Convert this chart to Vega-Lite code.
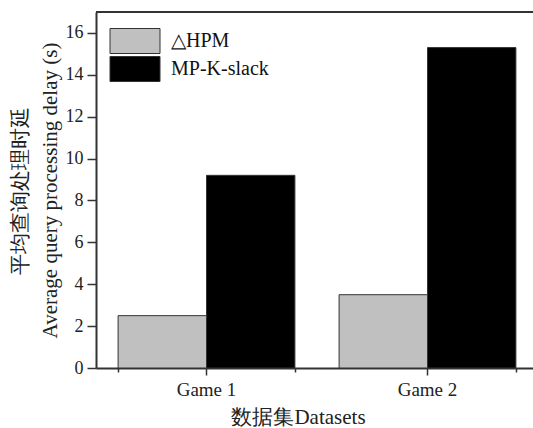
{
  "$schema": "https://vega.github.io/schema/vega-lite/v6.json",
  "autosize": "none",
  "width": 437,
  "height": 356,
  "padding": {"left": 96, "top": 12, "right": 0, "bottom": 60},
  "background": "white",
  "config": {
    "view": {"stroke": null},
    "font": "Liberation Serif",
    "axis": {"labelFont": "Liberation Serif", "titleFont": "Liberation Serif", "labelColor": "#222", "titleColor": "#222", "domainColor": "#333", "tickColor": "#333", "grid": false},
    "legend": {"labelFont": "Liberation Serif"}
  },
  "data": {
    "values": [
      {"Dataset": "Game 1", "Method": "△HPM", "Delay": 2.5},
      {"Dataset": "Game 1", "Method": "MP-K-slack", "Delay": 9.2},
      {"Dataset": "Game 2", "Method": "△HPM", "Delay": 3.5},
      {"Dataset": "Game 2", "Method": "MP-K-slack", "Delay": 15.3}
    ]
  },
  "resolve": {"axis": {"x": "independent"}},
  "layer": [
    {
      "mark": {"type": "bar", "stroke": "#333", "strokeWidth": 1},
      "encoding": {
        "x": {
          "field": "Dataset", "type": "nominal",
          "scale": {"range": [0, 442], "paddingInner": 0.2, "paddingOuter": 0.1},
          "axis": {
            "orient": "bottom",
            "title": "数据集Datasets",
            "titleFontSize": 21, "titleFontWeight": "normal",
            "titleX": 202, "titlePadding": 7,
            "labelAngle": 0, "labelFontSize": 19, "labelPadding": 5,
            "tickSize": 7, "tickWidth": 1.5, "domainWidth": 2
          }
        },
        "xOffset": {"field": "Method", "type": "nominal", "scale": {"domain": ["△HPM", "MP-K-slack"], "paddingInner": 0, "paddingOuter": 0}},
        "y": {
          "field": "Delay", "type": "quantitative",
          "scale": {"domain": [0, 17], "nice": false},
          "axis": {
            "title": ["平均查询处理时延", "Average query processing delay (s)"],
            "titleFontSize": 21, "titleFontWeight": "normal", "titleLineHeight": 30,
            "titlePadding": 5,
            "values": [0,1,2,3,4,5,6,7,8,9,10,11,12,13,14,15,16],
            "labelExpr": "datum.value % 2 == 0 ? datum.label : ''",
            "labelFontSize": 18, "labelPadding": 4,
            "tickSize": {"condition": {"test": "datum.value % 2 == 0", "value": 9}, "value": 5},
            "tickWidth": 1.5, "domainWidth": 2
          }
        },
        "fill": {
          "field": "Method", "type": "nominal",
          "scale": {"domain": ["△HPM", "MP-K-slack"], "range": ["#c0c0c0", "#000000"]},
          "legend": {
            "orient": "none", "legendX": 26, "legendY": 16,
            "title": null,
            "symbolType": "M-2,-1H2V1H-2Z",
            "symbolSize": 625,
            "symbolStrokeColor": "#333", "symbolStrokeWidth": 1,
            "labelFontSize": 20, "labelFont": "Liberation Serif",
            "labelColor": "#111", "labelOffset": 23,
            "rowPadding": -2
          }
        }
      }
    },
    {
      "mark": {"type": "bar", "opacity": 0},
      "encoding": {
        "x": {
          "field": "Dataset", "type": "nominal",
          "axis": {
            "orient": "bottom", "title": null, "labels": false, "domain": false,
            "tickBand": "extent", "tickSize": 4, "tickWidth": 1.5
          }
        },
        "xOffset": {"field": "Method", "type": "nominal"},
        "y": {"field": "Delay", "type": "quantitative"}
      }
    },
    {
      "mark": {"type": "rule", "stroke": "#333", "strokeWidth": 2},
      "encoding": {"y": {"datum": 17}}
    }
  ]
}
